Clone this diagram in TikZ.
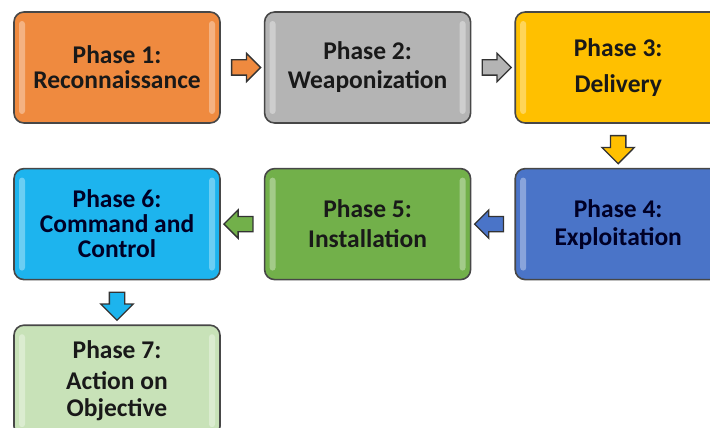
\documentclass[tikz,border=0pt]{standalone}
\usepackage{fontspec}
\setmainfont{Carlito}
\usetikzlibrary{positioning,calc,shapes.arrows}
\definecolor{recon}{HTML}{EF8A3F}
\definecolor{weapon}{HTML}{B4B4B4}
\definecolor{deliv}{HTML}{FFC000}
\definecolor{exploit}{HTML}{4A74C8}
\definecolor{install}{HTML}{72B04A}
\definecolor{cnc}{HTML}{1DB4EE}
\definecolor{action}{HTML}{C8E2B8}
\newcommand\phasefont{\fontsize{25.5}{25}\selectfont\bfseries}
\tikzset{
  phasebox/.style={draw=black!72, line width=1.6pt, rounded corners=10pt,
    minimum width=206pt, minimum height=111pt, inner sep=0pt,
    align=center, font=\phasefont, text=black!90,
    path picture={
      \fill[white, opacity=0.35, rounded corners=3pt]
        ([xshift=5pt,yshift=-9pt]path picture bounding box.north west)
        rectangle ([xshift=11pt,yshift=9pt]path picture bounding box.south west);
      \fill[white, opacity=0.35, rounded corners=3pt]
        ([xshift=-5pt,yshift=-9pt]path picture bounding box.north east)
        rectangle ([xshift=-11pt,yshift=9pt]path picture bounding box.south east);
    }},
  flowarrow/.style={single arrow, draw=black!80, line width=1.3pt,
    minimum height=29pt, inner sep=7pt,
    single arrow head extend=6.5pt},
  downarrow/.style={flowarrow, shape border rotate=270, minimum height=28pt,
    single arrow head extend=8.5pt}
}
\begin{document}
\begin{tikzpicture}[x=1pt, y=-1pt]
  \useasboundingbox (0,0) rectangle (710,428);
  \clip (0,0) rectangle (710,428);
  \fill[white] (0,0) rectangle (710,428);
  % the seven phases
  \node[phasebox, fill=recon] (p1) at (117,67.5) {Phase 1:\\Reconnaissance};
  \node[phasebox, fill=weapon, right=43pt of p1] (p2) {Phase 2:\\[4pt]Weaponization};
  \node[phasebox, fill=deliv, right=43pt of p2] (p3) {Phase 3:\\[11pt]Delivery};
  \node[phasebox, fill=exploit, text=black!85!blue, below=44pt of p3] (p4) {Phase 4:\\[3pt]Exploitation};
  \node[phasebox, fill=install, left=43pt of p4] (p5) {Phase 5:\\[5pt]Installation};
  \node[phasebox, fill=cnc, text=black!85!blue, left=43pt of p5] (p6) {Phase 6:\\Command and\\Control};
  \node[phasebox, fill=action, below=44pt of p6] (p7) {Phase 7:\\[6pt]Action on\\[2pt]Objective};
  % arrows between phases
  \node[flowarrow, fill=recon] (a12) at ($(p1.east)!0.5!(p2.west)$) {};
  \node[flowarrow, fill=weapon] (a23) at ($(p2.east)!0.5!(p3.west)$) {};
  \node[downarrow, fill=deliv] (a34) at ($(p3.south)!0.5!(p4.north)$) {};
  \node[flowarrow, fill=exploit, shape border rotate=180] (a45) at ($(p4.west)!0.5!(p5.east)$) {};
  \node[flowarrow, fill=install, shape border rotate=180] (a56) at ($(p5.west)!0.5!(p6.east)$) {};
  \node[downarrow, fill=cnc] (a67) at ($(p6.south)!0.5!(p7.north)$) {};
\end{tikzpicture}
\end{document}
